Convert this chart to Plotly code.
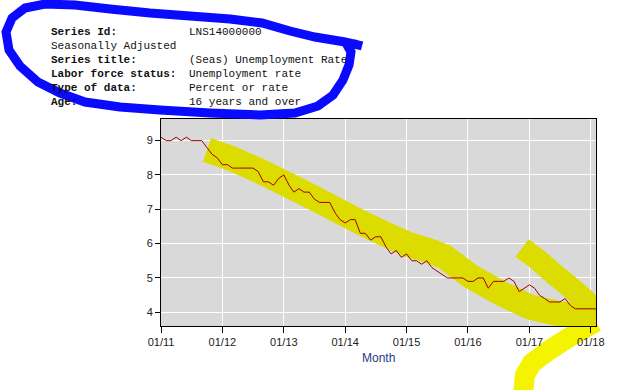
import pandas as pd
import plotly.graph_objects as go

# ---- data (LNS14000000, seasonally adjusted unemployment rate, %) ----
start_month = "2011-01-01"
rate_2011 = [9.1, 9.0, 9.0, 9.1, 9.0, 9.1, 9.0, 9.0, 9.0, 8.8, 8.6, 8.5]
rate_2012 = [8.3, 8.3, 8.2, 8.2, 8.2, 8.2, 8.2, 8.1, 7.8, 7.8, 7.7, 7.9]
rate_2013 = [8.0, 7.7, 7.5, 7.6, 7.5, 7.5, 7.3, 7.2, 7.2, 7.2, 6.9, 6.7]
rate_2014 = [6.6, 6.7, 6.7, 6.3, 6.3, 6.1, 6.2, 6.2, 5.9, 5.7, 5.8, 5.6]
rate_2015 = [5.7, 5.5, 5.5, 5.4, 5.5, 5.3, 5.2, 5.1, 5.0, 5.0, 5.0, 5.0]
rate_2016 = [4.9, 4.9, 5.0, 5.0, 4.7, 4.9, 4.9, 4.9, 5.0, 4.9, 4.6, 4.7]
rate_2017 = [4.8, 4.7, 4.5, 4.4, 4.3, 4.3, 4.3, 4.4, 4.2, 4.1, 4.1, 4.1]
rate_2018 = [4.1, 4.1]

header_labels = ["Series Id:", "Seasonally Adjusted", "Series title:",
                 "Labor force status:", "Type of data:", "Age:"]
header_bold = [True, False, True, True, True, True]
header_values = ["LNS14000000", "", "(Seas) Unemployment Rate",
                 "Unemployment rate", "Percent or rate", "16 years and over"]

x_title = "Month"
y_range = [3.6, 9.63]

rates = rate_2011 + rate_2012 + rate_2013 + rate_2014 + rate_2015 + rate_2016 + rate_2017 + rate_2018
months = pd.date_range(start_month, periods=len(rates), freq="MS")

# ---- layout geometry (pixels) ----
W, H = 632, 390
ML, MR, MT, MB = 161, 36, 119, 64
PW, PH = W - ML - MR, H - MT - MB


def fx(px):
    return (px - ML) / PW


def fy(py):
    return (H - MB - py) / PH


def paper_path(points):
    return "M " + " L ".join(f"{fx(x):.4f},{fy(y):.4f}" for x, y in points)


def pixel_path(points):
    # offsets in pixels from the plot's lower-left corner (y positive upward)
    return "M " + " L ".join(f"{x - ML:.1f},{(H - MB) - y:.1f}" for x, y in points)


fig = go.Figure()
fig.add_trace(go.Scatter(
    x=months, y=rates, mode="lines",
    line=dict(color="#a00000", width=1),
    hoverinfo="x+y", showlegend=False,
))

axis_font = dict(family="Liberation Sans, Arial, sans-serif", size=11, color="#222222")

fig.update_layout(
    width=W, height=H,
    margin=dict(l=ML, r=MR, t=MT, b=MB, pad=0),
    paper_bgcolor="white",
    plot_bgcolor="#d9d9d9",
    showlegend=False,
    xaxis=dict(
        type="date",
        range=[months[0], months[-1]],
        tick0=start_month, dtick="M12", tickformat="%m/%y",
        showgrid=True, gridcolor="white", gridwidth=1,
        showline=True, linecolor="black", linewidth=1, mirror=True,
        ticks="outside", ticklen=6, tickcolor="black", tickwidth=1,
        tickfont=axis_font, zeroline=False,
    ),
    yaxis=dict(
        range=y_range, dtick=1, tick0=0,
        showgrid=True, gridcolor="white", gridwidth=1,
        showline=True, linecolor="black", linewidth=1, mirror=True,
        ticks="outside", ticklen=5, tickcolor="black", tickwidth=1,
        tickfont=axis_font, zeroline=False,
    ),
)

# x-axis title
fig.add_annotation(
    text=x_title, xref="paper", yref="paper", x=0.5, y=0,
    xanchor="center", yanchor="middle", yshift=-31.5, showarrow=False,
    font=dict(family="Liberation Sans, Arial, sans-serif", size=12, color="#1f3a80"),
)

# header block
row_y = [32.3, 46, 60.3, 74, 88.3, 101.7]
mono = dict(family="Liberation Mono, DejaVu Sans Mono, monospace", size=11, color="#111111")
for lab, bold, val, py in zip(header_labels, header_bold, header_values, row_y):
    fig.add_annotation(text=f"<b>{lab}</b>" if bold else lab, xref="paper", yref="paper",
                       x=fx(49), y=fy(py), xanchor="left", yanchor="middle",
                       showarrow=False, font=mono)
    if val:
        fig.add_annotation(text=val, xref="paper", yref="paper",
                           x=fx(187), y=fy(py), xanchor="left", yanchor="middle",
                           showarrow=False, font=mono)

# hand-drawn yellow highlighter strokes (inside the plot: above grid, below line)
band_main = [(207, 150), (230, 158), (260, 171), (283, 182.5), (310, 196), (333, 208),
             (360, 222), (385, 234), (407, 244), (430, 251), (445, 257), (470, 276),
             (500, 293), (530, 307), (560, 314), (585, 316), (600, 314)]
band_diag = [(522, 248), (537, 259), (553, 273), (570, 287), (585, 300), (599, 313)]
band_low = [(523, 394), (525, 375), (532, 363), (548, 351), (565, 340), (580, 331), (596, 322)]

for pts, wdt in [(band_main, 25), (band_diag, 22)]:
    fig.add_shape(type="path", xref="x", yref="y",
                  xsizemode="pixel", ysizemode="pixel",
                  xanchor=months[0], yanchor=y_range[0],
                  path=pixel_path(pts),
                  line=dict(color="#dcdc00", width=wdt), fillcolor="rgba(0,0,0,0)",
                  layer="between")

# stroke below the axis (under the tick labels)
fig.add_shape(type="path", xref="paper", yref="paper", path=paper_path(band_low),
              line=dict(color="#f4f400", width=20), fillcolor="rgba(0,0,0,0)", layer="below")

# hand-drawn blue loop
blue_loop = [(362, 46), (345, 42), (315, 37), (290, 31), (262, 23), (230, 19), (190, 16),
             (150, 13), (110, 9), (75, 5), (45, 4), (25, 8), (12, 18), (6, 32), (9, 50),
             (20, 66), (38, 82), (60, 93), (85, 102), (120, 107), (160, 110), (210, 113),
             (260, 115), (295, 113), (318, 106), (333, 95), (343, 80), (349, 65),
             (351, 52), (347, 45), (355, 44), (362, 46)]
fig.add_shape(type="path", xref="paper", yref="paper", path=paper_path(blue_loop),
              line=dict(color="#0a0aff", width=9), fillcolor="rgba(0,0,0,0)", layer="above")

fig.write_html("out.html")
